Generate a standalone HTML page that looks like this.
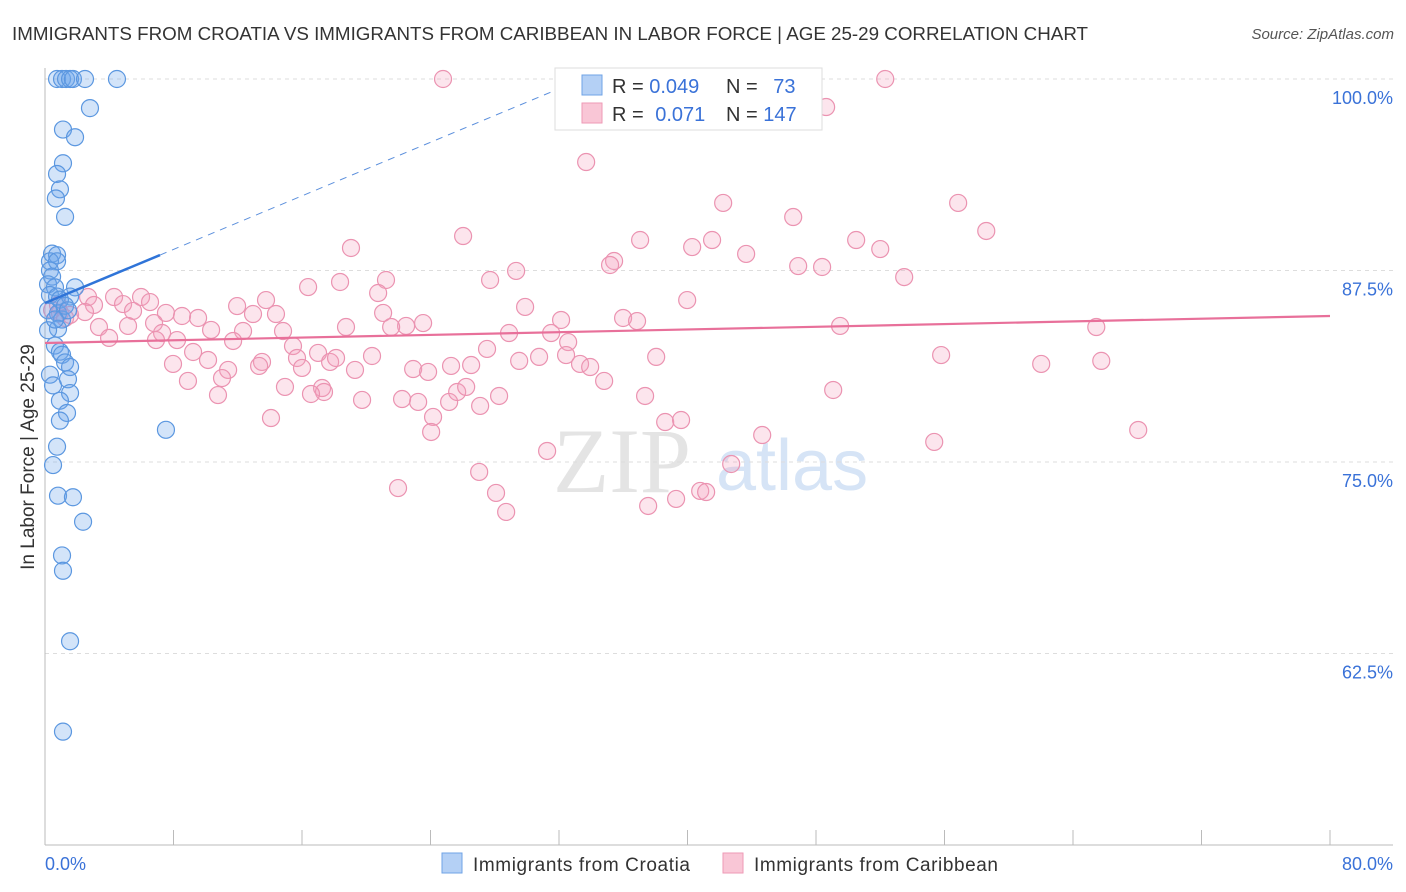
<!DOCTYPE html>
<html><head><meta charset="utf-8"><style>
body{margin:0;background:#fff;font-family:"Liberation Sans",sans-serif;}
#c{position:relative;width:1406px;height:892px;overflow:hidden;}
</style></head><body>
<div id="c">
<svg id="s" width="1406" height="892" xmlns="http://www.w3.org/2000/svg">
<text x="12" y="40" font-size="18" fill="#333" textLength="1076" lengthAdjust="spacingAndGlyphs">IMMIGRANTS FROM CROATIA VS IMMIGRANTS FROM CARIBBEAN IN LABOR FORCE | AGE 25-29 CORRELATION CHART</text>
<text x="1394" y="39" font-size="15" fill="#555" font-style="italic" text-anchor="end">Source: ZipAtlas.com</text>
<text transform="translate(34,457) rotate(-90)" font-size="19" fill="#333" text-anchor="middle">In Labor Force | Age 25-29</text>
<text x="553" y="492" font-size="92" fill="#e4e4e4" font-family="Liberation Serif,serif">ZIP</text>
<text x="716" y="490" font-size="72" fill="#d6e4f6">atlas</text>
<g id="grid"></g><g id="axes"></g><g id="pts"></g><g id="lines"></g>
<g>
<rect x="555" y="68" width="267" height="62" fill="#fff" stroke="#ddd"/>
<rect x="582" y="75" width="20" height="20" fill="#b4d0f5" stroke="#6fa3e6"/>
<rect x="582" y="103" width="20" height="20" fill="#f9c6d6" stroke="#ee9ab6"/>
<text x="612" y="93" font-size="20" fill="#333">R = <tspan fill="#3a72d8">0.049</tspan></text>
<text x="726" y="93" font-size="20" fill="#333">N = <tspan fill="#3a72d8" dx="10">73</tspan></text>
<text x="612" y="121" font-size="20" fill="#333">R = <tspan fill="#3a72d8" dx="6">0.071</tspan></text>
<text x="726" y="121" font-size="20" fill="#333">N = <tspan fill="#3a72d8">147</tspan></text>
</g>
<g>
<rect x="442" y="853" width="20" height="20" fill="#b4d0f5" stroke="#6fa3e6"/>
<text x="473" y="871" font-size="19" fill="#333" textLength="217">Immigrants from Croatia</text>
<rect x="723" y="853" width="20" height="20" fill="#f9c6d6" stroke="#ee9ab6"/>
<text x="754" y="871" font-size="19" fill="#333" textLength="244">Immigrants from Caribbean</text>
</g>
</svg>
</div>
<script>
const yTicks=[100,87.5,75,62.5];
const yTickLabels=["100.0%","87.5%","75.0%","62.5%"];
const xEndLabels=["0.0%","80.0%"];
const croatiaX=[0.75,1.06,1.31,1.56,1.74,2.49,4.48,2.8,1.12,1.87,1.12,0.75,0.93,0.68,1.25,0.44,0.75,0.31,0.75,0.31,0.44,0.19,0.62,0.31,0.75,1.87,1.56,0.19,0.81,1.06,0.81,0.19,0.62,0.93,1.06,1.25,1.56,0.31,0.5,1.43,1.56,0.93,1.37,0.93,0.75,0.5,0.81,1.74,2.37,1.06,1.12,1.56,1.12,7.53,0.93,1.25,1.43,0.62];
const croatiaY=[100,100,100,100,100,100,100,98.1,96.7,96.2,94.5,93.8,92.8,92.2,91.0,88.6,88.5,88.1,88.1,87.5,87.1,86.6,86.4,85.9,85.8,86.4,85.8,84.9,84.7,84.3,83.7,83.6,82.6,82.2,82.0,81.5,81.2,80.7,80.0,80.4,79.5,79.0,78.2,77.7,76.0,74.8,72.8,72.7,71.1,68.9,67.9,63.3,57.4,77.1,85.6,85.2,84.9,84.3];
const caribX=[24.78,52.31,48.63,33.69,42.22,56.85,46.58,58.6,26.03,37.05,41.53,50.5,19.05,40.29,52.0,43.65,35.43,35.18,29.33,46.89,48.38,53.49,21.23,27.71,18.37,16.38,20.74,39.98,4.3,5.98,6.54,13.76,2.68,4.86,11.96,29.89,3.05,7.53,8.53,9.53,5.48,12.95,14.38,21.05,32.13,35.99,36.86,23.54,22.48,18.74,21.55,5.17,3.36,6.79,7.29,10.34,12.33,14.82,28.89,31.51,49.5,65.45,3.99,6.91,8.22,11.71,15.44,27.52,32.57,9.22,10.15,13.51,15.69,17.0,17.75,18.12,20.36,32.44,30.76,29.52,38.05,55.79,62.02,65.76,7.97,11.4,13.33,16.0,19.3,22.92,23.85,25.28,26.53,33.31,33.94,11.02,8.9,14.94,17.25,17.37,16.56,19.74,22.23,23.23,25.16,25.66,26.22,28.27,34.81,37.36,10.77,49.07,27.09,24.16,14.07,24.04,38.61,39.6,44.65,55.36,68.06,31.26,42.72,27.03,21.98,28.08,40.79,41.16,39.29,37.55,28.71,0.44,0.93,1.25,1.56,0.81,2.49];
const caribY=[100,100,98.17,94.58,91.91,91.91,90.99,90.08,89.75,89.49,89.49,89.49,88.97,89.03,88.9,88.58,88.12,87.86,87.47,87.79,87.73,87.07,86.88,86.88,86.75,86.42,86.03,85.57,85.77,85.77,85.44,85.57,85.77,85.31,85.18,85.12,85.25,84.73,84.53,84.4,84.86,84.66,84.66,84.73,84.27,84.4,84.2,84.07,83.88,83.81,83.81,83.88,83.81,84.07,83.42,83.62,83.55,83.55,83.42,83.42,83.88,83.81,83.1,82.96,82.96,82.9,82.57,82.38,82.83,82.18,81.66,81.53,81.79,82.12,81.53,81.79,81.92,81.98,81.86,81.6,81.86,81.98,81.4,81.6,81.4,81.01,81.27,81.14,81.01,81.07,80.88,81.27,81.33,81.4,81.2,80.48,80.29,79.9,79.83,79.57,79.44,79.05,79.11,78.92,78.92,79.57,79.9,79.31,80.29,79.31,79.37,79.7,78.66,77.94,77.87,76.96,77.61,77.74,76.76,76.31,77.09,75.72,74.87,74.35,73.3,72.98,73.11,73.04,72.59,72.13,71.74,84.92,84.73,84.4,84.6,85.25,84.79];
const croatiaTrend=[85.38,0.437];
const caribTrend=[82.77,0.022];
const NS="http://www.w3.org/2000/svg";
const X0=45,X1=1330,Y100=79,PXPER=191.5/12.5;
function xs(v){return X0+(v/80)*(X1-X0);}
function ys(v){return Y100+(100-v)*PXPER;}
function mk(tag,attrs,parent){const e=document.createElementNS(NS,tag);for(const k in attrs)e.setAttribute(k,attrs[k]);parent.appendChild(e);return e;}
const grid=document.getElementById('grid'),axes=document.getElementById('axes'),pts=document.getElementById('pts'),lines=document.getElementById('lines');
yTicks.forEach((t,i)=>{
 const l=mk('line',{x1:X0,x2:1393,y1:ys(t),y2:ys(t),stroke:'#ddd','stroke-dasharray':'4,4'},grid);
 
 
 const tx=mk('text',{x:1393,y:ys(t)+25,'font-size':18,fill:'#3a72d8','text-anchor':'end'},grid);
 tx.textContent=yTickLabels[i];
 
 
});
const la=mk('line',{x1:X0,x2:X0,y1:68,y2:845,stroke:'#bbb'},axes);


const ba=mk('line',{x1:X0,x2:1393,y1:845,y2:845,stroke:'#bbb'},axes);


for(let v=8;v<=80;v+=8){
 const t=mk('line',{x1:xs(v),x2:xs(v),y1:830,y2:845,stroke:'#bbb'},axes);
 
 
}
[[0,'start',45],[80,'end',1393]].forEach((a,i)=>{
 const t=mk('text',{x:a[2],y:870,'font-size':18,fill:'#3a72d8','text-anchor':a[1]},axes);
 t.textContent=xEndLabels[i];
 
 
});
caribX.forEach((x,i)=>{
 const c=mk('circle',{cx:xs(x),cy:ys(caribY[i]),r:8.5,fill:'rgba(244,160,190,0.28)',stroke:'#eb93b1','stroke-width':1.2},pts);
 
 
});
croatiaX.forEach((x,i)=>{
 const c=mk('circle',{cx:xs(x),cy:ys(croatiaY[i]),r:8.5,fill:'rgba(110,165,235,0.3)',stroke:'#5b97e0','stroke-width':1.2},pts);
 
 
});
const pl=mk('line',{x1:xs(0),y1:ys(caribTrend[0]),x2:xs(80),y2:ys(caribTrend[0]+80*caribTrend[1]),stroke:'#e8709a','stroke-width':2.2},lines);


const xe=7.16,xd=(100-croatiaTrend[0])/croatiaTrend[1];
const bl=mk('line',{x1:xs(0),y1:ys(croatiaTrend[0]),x2:xs(xe),y2:ys(croatiaTrend[0]+xe*croatiaTrend[1]),stroke:'#2f74d8','stroke-width':2.5},lines);


const bd=mk('line',{x1:xs(xe),y1:ys(croatiaTrend[0]+xe*croatiaTrend[1]),x2:xs(xd),y2:ys(100),stroke:'#5b8fdc','stroke-width':1,'stroke-dasharray':'7,6'},lines);


</script>
</body></html>
